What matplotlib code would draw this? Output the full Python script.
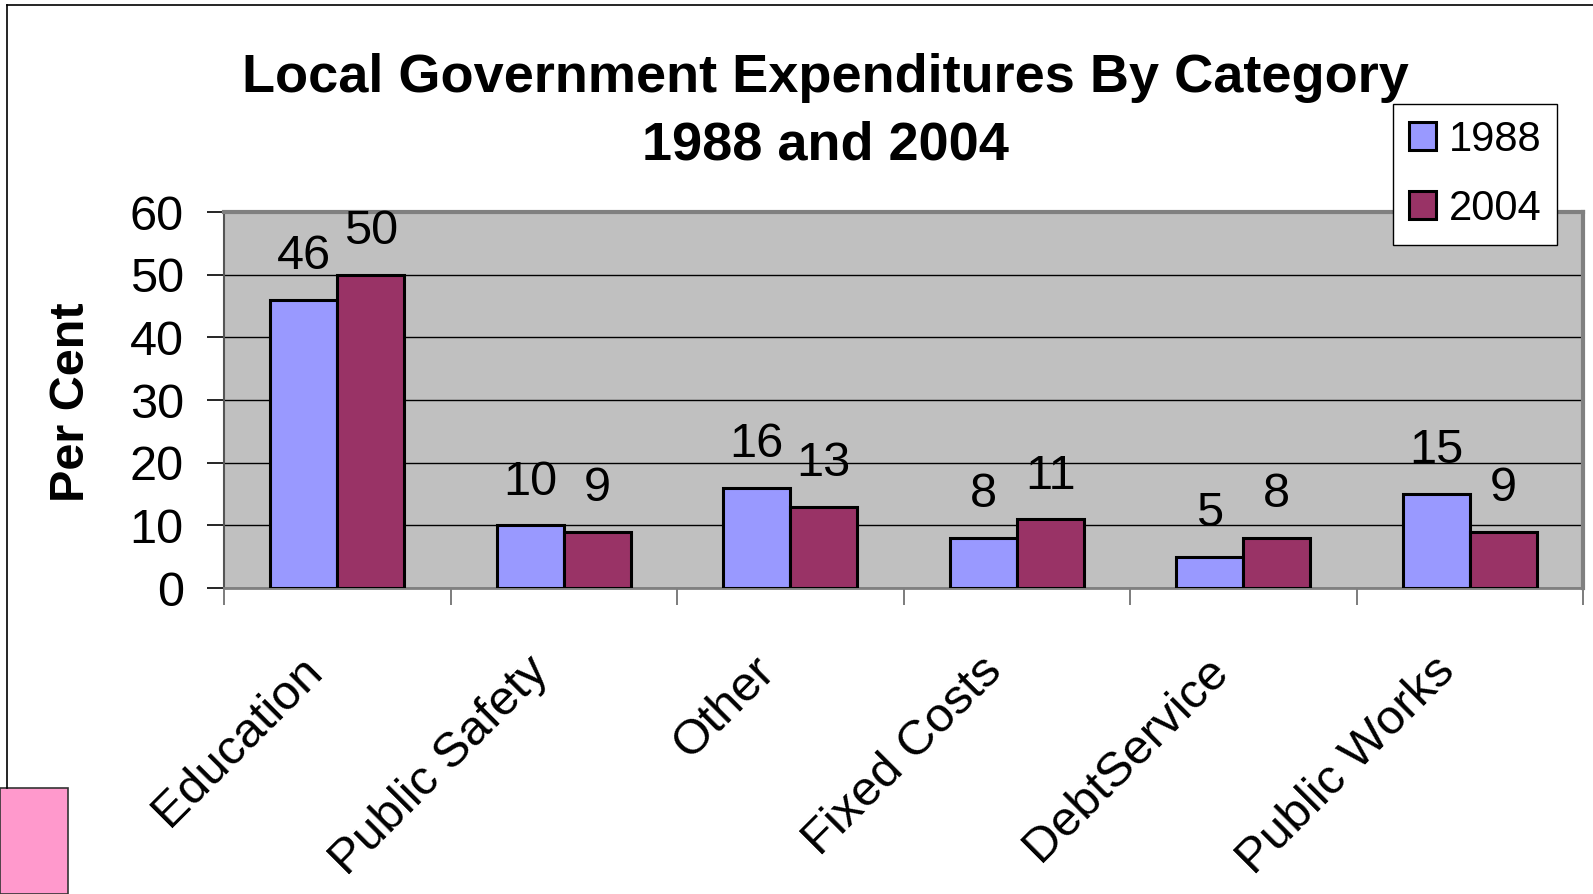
import numpy as np
import matplotlib.pyplot as plt
import matplotlib.transforms as mtransforms
from matplotlib.patches import Rectangle
from matplotlib.lines import Line2D

plt.rcParams['font.family'] = ['Liberation Sans', 'DejaVu Sans']

categories = ["Education", "Public Safety", "Other", "Fixed Costs", "DebtService", "Public Works"]
vals_1988 = [46, 10, 16, 8, 5, 15]
vals_2004 = [50, 9, 13, 11, 8, 9]

W, H = 1593, 894
fig = plt.figure(figsize=(W/100, H/100), dpi=100)
ax = fig.add_axes([224/W, 1-588/H, (1583-224)/W, (588-212)/H])

# outer frame and pink box
fig.add_artist(Line2D([7/W, 1], [1-5/H, 1-5/H], color='black', lw=1.2, transform=fig.transFigure))
fig.add_artist(Line2D([7/W, 7/W], [1-5/H, 1-788/H], color='black', lw=1.2, transform=fig.transFigure))
fig.add_artist(Rectangle((0, 0), 68/W, 1-788/H, transform=fig.transFigure,
                         facecolor='#FF99CC', edgecolor='#333333', lw=1.2))

x = np.arange(len(categories))
w = 0.295
b1 = ax.bar(x - w/2, vals_1988, w, color='#9999FF', edgecolor='black', lw=2.2, label='1988', zorder=3)
b2 = ax.bar(x + w/2, vals_2004, w, color='#993366', edgecolor='black', lw=2.2, label='2004', zorder=3)

for bars in (b1, b2):
    for r in bars:
        ax.annotate(str(int(r.get_height())), (r.get_x() + r.get_width()/2, r.get_height()),
                    xytext=(0, 22), textcoords='offset points', ha='center', va='baseline', fontsize=35)

ax.set_facecolor('#C0C0C0')
ax.set_ylim(0, 60)
ax.set_xlim(-0.5, len(categories) - 0.5)
ax.set_yticks(range(0, 61, 10))
ax.yaxis.grid(True, color='black', lw=1, zorder=1)
ax.set_axisbelow(True)

ax.set_xticks(np.arange(-0.5, len(categories)), labels=[])
ax.set_xticks(x, minor=True)
ax.set_xticklabels(categories, minor=True, rotation=45, ha='right', va='center',
                   rotation_mode='anchor', fontsize=35.5)
ax.tick_params(axis='x', which='minor', length=0, pad=55)
ax.tick_params(axis='x', which='major', length=12, width=1.2, color='#666666')
ax.tick_params(axis='y', length=12, width=1.2, labelsize=35, pad=17)

shift = mtransforms.ScaledTranslation(-22/100, 0, fig.dpi_scale_trans)
for lab in ax.get_xticklabels(minor=True):
    lab.set_transform(lab.get_transform() + shift)

for s in ['top', 'right']:
    ax.spines[s].set_color('#808080')
    ax.spines[s].set_linewidth(3)
ax.spines['left'].set_color('#555555')
ax.spines['left'].set_linewidth(1.5)
ax.spines['bottom'].set_color('#808080')
ax.spines['bottom'].set_linewidth(2)

ax.set_ylabel('Per Cent', fontsize=35, fontweight='bold')
ax.yaxis.set_label_coords(71/W, 1-402/H, transform=fig.transFigure)
ax.yaxis.label.set_va('center')

fig.text(825/W, 1-112/H, 'Local Government Expenditures By Category\n1988 and 2004',
         ha='center', va='center', fontsize=39, fontweight='bold', linespacing=1.45)

leg = ax.legend(loc='upper left', bbox_to_anchor=(1393/W, 1-104/H), bbox_transform=fig.transFigure,
                fontsize=30, frameon=True, fancybox=False, edgecolor='black', framealpha=1,
                handlelength=0.65, handleheight=0.65, handletextpad=0.3, labelspacing=0.7,
                borderpad=0.38, borderaxespad=0)
leg.get_frame().set_linewidth(1)

fig.savefig('out.png', dpi=100)
